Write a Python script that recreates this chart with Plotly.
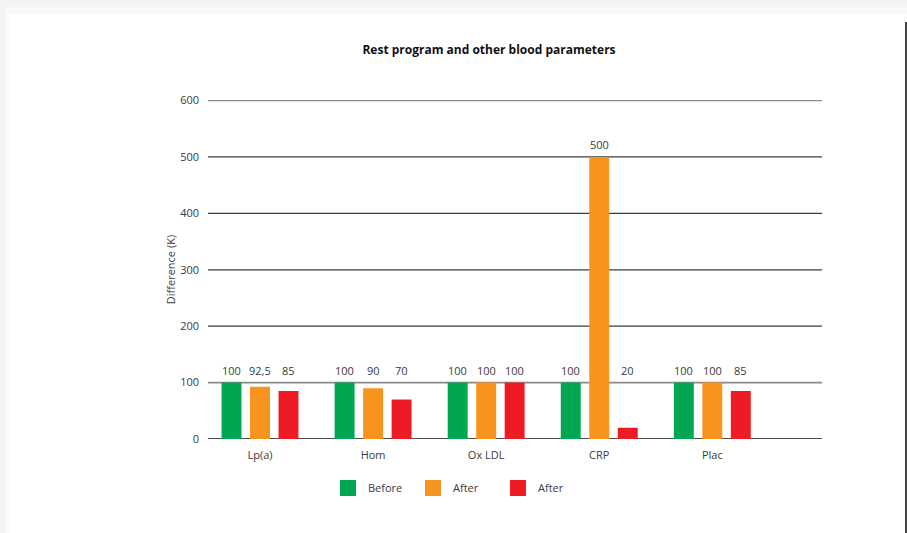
import plotly.graph_objects as go

# Blood parameters measured around the rest program
categories = ["Lp(a)", "Hom", "Ox LDL", "CRP", "Plac"]
before = [100, 100, 100, 100, 100]
after_1 = [92.5, 90, 100, 500, 100]
after_2 = [85, 70, 100, 20, 85]
series_names = ["Before", "After", "After"]
series_colors = ["#00A651", "#F7941D", "#ED1C24"]
y_ticks = [0, 100, 200, 300, 400, 500, 600]

W, H = 907, 533
L, R, T, B = 208, 85, 100, 94
PW, PH = W - L - R, H - T - B

FONT = "Open Sans, Noto Sans, sans-serif"
TXT = "#3a3a3a"


def px_x(px):
    return (px - L) / PW


def px_y(py):
    return (H - B - py) / PH


def fmt(v):
    s = f"{v:g}"
    return s.replace(".", ",")


fig = go.Figure()

for name, vals, col in zip(series_names, [before, after_1, after_2], series_colors):
    fig.add_trace(go.Bar(
        x=categories, y=vals, name=name, marker=dict(color=col, line=dict(width=0)),
        showlegend=False, hoverinfo="x+y",
    ))

# legend entries with larger square swatches
for name, col in zip(series_names, series_colors):
    fig.add_trace(go.Scatter(
        x=[None], y=[None], mode="markers", name=name,
        marker=dict(symbol="square", size=18, color=col),
        showlegend=True,
    ))

# value labels: sit just above the 100 line, or above the bar if taller
annotations = []
for i, vals in enumerate([before, after_1, after_2]):
    for j, v in enumerate(vals):
        annotations.append(dict(
            x=categories[j], y=max(v, 100), xref="x", yref="y",
            text=fmt(v), showarrow=False, yanchor="bottom", yshift=3,
            xshift=(i - 1) * 28.5,
            font=dict(family=FONT, size=11, color=TXT),
        ))

# page card with soft shadow on the top/left and a dark right edge
shapes = [
    dict(type="rect", xref="paper", yref="paper", layer="below",
         x0=px_x(0), x1=px_x(W), y0=px_y(0), y1=px_y(14),
         fillcolor="#f4f4f4", line=dict(width=0)),
    dict(type="rect", xref="paper", yref="paper", layer="below",
         x0=px_x(0), x1=px_x(10), y0=px_y(0), y1=px_y(H),
         fillcolor="#f4f4f4", line=dict(width=0)),
    dict(type="rect", xref="paper", yref="paper", layer="below",
         x0=px_x(5), x1=px_x(10), y0=px_y(7), y1=px_y(H),
         fillcolor="#f9f9f9", line=dict(width=0)),
    dict(type="rect", xref="paper", yref="paper", layer="below",
         x0=px_x(5), x1=px_x(W), y0=px_y(7), y1=px_y(14),
         fillcolor="#f9f9f9", line=dict(width=0)),
    dict(type="rect", xref="paper", yref="paper", layer="below",
         x0=px_x(10), x1=px_x(905), y0=px_y(14), y1=px_y(H),
         fillcolor="white", line=dict(width=0)),
    dict(type="rect", xref="paper", yref="paper", layer="below",
         x0=px_x(905), x1=px_x(907), y0=px_y(22), y1=px_y(H),
         fillcolor="#444444", line=dict(width=0)),
]

# horizontal rules at each tick: 100 and the top line are lighter, baseline darkest
grid_style = {0: ("#111111", 1.4), 100: ("#8a8a8a", 1.6), 600: ("#8a8a8a", 1.6)}
for yv in y_ticks:
    col, wid = grid_style.get(yv, ("#3c3c3c", 1.2))
    shapes.append(dict(type="line", xref="paper", yref="y", layer="below",
                       x0=0, x1=1, y0=yv, y1=yv,
                       line=dict(color=col, width=wid)))

fig.update_layout(
    width=W, height=H,
    margin=dict(l=L, r=R, t=T, b=B),
    paper_bgcolor="white", plot_bgcolor="rgba(0,0,0,0)",
    barmode="group", bargap=0.244, bargroupgap=0.30,
    title=dict(text="<b>Rest program and other blood parameters</b>",
               x=px_x(489), xref="paper", xanchor="center",
               y=1 - 50 / H, yanchor="middle",
               font=dict(family=FONT, size=12, color="#111111")),
    font=dict(family=FONT, size=11, color=TXT),
    xaxis=dict(range=[-0.46, 4.97], showgrid=False, zeroline=False,
               showline=False, ticks="", ticklabelstandoff=8,
               tickfont=dict(family=FONT, size=11, color=TXT)),
    yaxis=dict(range=[0, 601], tickvals=y_ticks, showgrid=False,
               zeroline=False, showline=False,
               ticks="", ticklabelstandoff=8,
               title=dict(text="Difference (K)", standoff=2,
                          font=dict(family=FONT, size=11, color=TXT)),
               tickfont=dict(family=FONT, size=11, color=TXT)),
    legend=dict(orientation="h", x=px_x(328), xanchor="left",
                y=px_y(488), yanchor="middle",
                entrywidth=40, entrywidthmode="pixels",
                font=dict(family=FONT, size=11, color=TXT),
                bgcolor="rgba(0,0,0,0)"),
    annotations=annotations,
    shapes=shapes,
)

fig.write_html("out.html")
